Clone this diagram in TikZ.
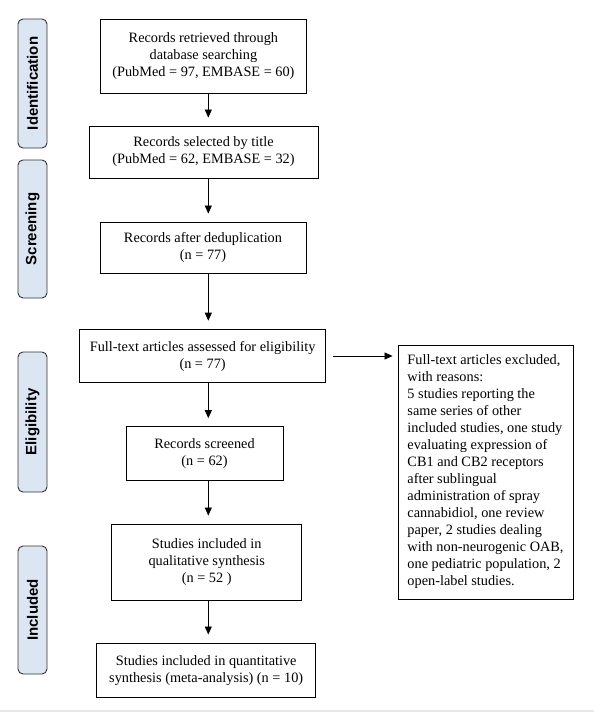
\documentclass[tikz,border=0pt]{standalone}
\usepackage{fontspec}
\setmainfont{Liberation Serif}
\setsansfont{Liberation Sans}
\usepackage{tikz}
\usetikzlibrary{arrows.meta,positioning,calc}
\definecolor{phaseblue}{RGB}{220,230,242}
\definecolor{edgegray}{RGB}{232,232,232}
\tikzset{
  fbox/.style={draw=black, line width=0.9pt, inner sep=0pt, align=center,
      font=\fontsize{14.3}{17}\selectfont},
  phase/.style={draw=black!80, line width=0.9pt, fill=phaseblue, rounded corners=5pt,
      rotate=90, minimum height=29pt, inner sep=0pt, font=\sffamily\bfseries\fontsize{15}{17}\selectfont},
  barr/.style={-{Triangle[length=8pt, width=7pt]}, line width=0.8pt, shorten >=8pt},
}

\begin{document}
\begin{tikzpicture}[x=1pt, y=-1pt]
  \useasboundingbox (0,0) rectangle (594,712);
  \fill[edgegray] (0,709.5) rectangle (594,712);
  % phases
  \node[phase, minimum width=129pt] (pid) at (32.5,83.5) {Identification};
  \node[phase, minimum width=138pt] (pscr) at (32.5,229) {Screening};
  \node[phase, minimum width=140pt] (pel) at (32.5,422) {Eligibility};
  \node[phase, minimum width=128pt] (pinc) at (32.5,610) {Included};
  % flow boxes
  \node[fbox, minimum width=206.7pt, minimum height=74pt] (ret) at (203.4,56.3)
    {Records retrieved through\\database searching\\(PubMed = 97, EMBASE = 60)};
  \node[fbox, minimum width=229pt, minimum height=52pt] (sel) at (203.5,152)
    {Records selected by title\\(PubMed = 62, EMBASE = 32)};
  \node[fbox, minimum width=206pt, minimum height=51pt] (dedup) at (203,247.5)
    {Records after deduplication\\(n = 77)};
  \node[fbox, minimum width=246pt, minimum height=53.7pt] (full) at (202.6,356)
    {Full-text articles assessed for eligibility\\(n = 77)};
  \node[fbox, minimum width=157pt, minimum height=53.3pt] (scr) at (204.5,453.3)
    {Records screened\\(n = 62)};
  \node[fbox, minimum width=190pt, minimum height=76pt] (qual) at (206.7,562)
    {Studies included in\\qualitative synthesis\\(n = 52 )};
  \node[fbox, minimum width=219pt, minimum height=54.7pt] (quant) at (206.2,670.3)
    {Studies included in quantitative\\synthesis (meta-analysis) (n = 10)};
  \node[fbox, align=left, minimum width=175pt, minimum height=254pt] (excl) at (485.5,472)
    {Full-text articles excluded,\\with reasons:\\5 studies reporting the\\same series of other\\included studies, one study\\evaluating expression of\\CB1 and CB2 receptors\\after sublingual\\administration of spray\\cannabidiol, one review\\paper, 2 studies dealing\\with non-neurogenic OAB,\\one pediatric population, 2\\open-label studies.};
  % arrows
  \coordinate (ax) at (208.3,0);
  \draw[barr] (ret.south -| ax) -- (sel.north -| ax);
  \draw[barr] (sel.south -| ax) -- (dedup.north -| ax);
  \draw[barr] (dedup.south -| ax) -- (full.north -| ax);
  \draw[barr] (full.south -| ax) -- (scr.north -| ax);
  \draw[barr] (scr.south -| ax) -- (qual.north -| ax);
  \draw[barr] (qual.south -| ax) -- (quant.north -| ax);
  \draw[barr, shorten <=7pt, shorten >=5pt] (full.east) -- (full.east -| excl.west);
\end{tikzpicture}
\end{document}
